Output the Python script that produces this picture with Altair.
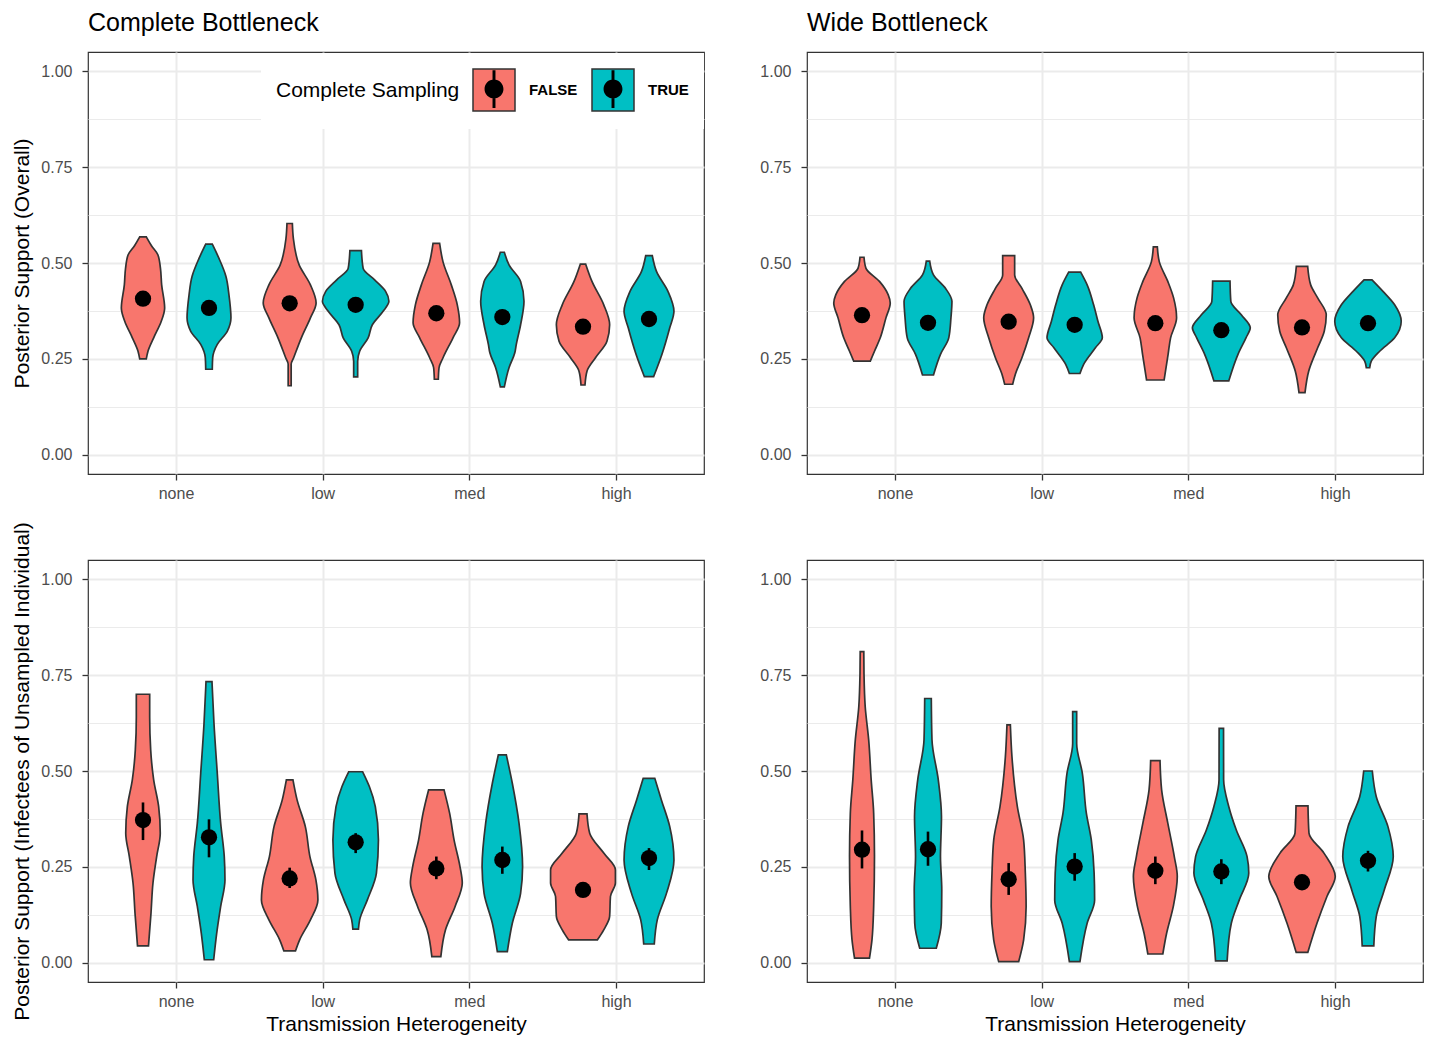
import altair as alt
import pandas as pd

FONT = "Liberation Sans"

categories = ["none", "low", "med", "high"]
sampling = ["FALSE", "TRUE"]
colors = ["#F8766D", "#00BFC4"]

# order of every list below: none-FALSE, none-TRUE, low-FALSE, low-TRUE, med-FALSE, med-TRUE, high-FALSE, high-TRUE
cb_overall_mean = [0.407, 0.383, 0.395, 0.391, 0.369, 0.359, 0.334, 0.354]
cb_overall_lo = [0.397, 0.373, 0.385, 0.381, 0.359, 0.349, 0.324, 0.344]
cb_overall_hi = [0.417, 0.393, 0.405, 0.401, 0.379, 0.369, 0.344, 0.364]

wb_overall_mean = [0.364, 0.344, 0.347, 0.339, 0.343, 0.325, 0.332, 0.343]
wb_overall_lo = [0.354, 0.334, 0.337, 0.329, 0.333, 0.315, 0.322, 0.333]
wb_overall_hi = [0.374, 0.354, 0.357, 0.349, 0.353, 0.335, 0.342, 0.353]

cb_unsamp_mean = [0.372, 0.327, 0.220, 0.314, 0.246, 0.268, 0.190, 0.273]
cb_unsamp_lo = [0.320, 0.275, 0.195, 0.286, 0.218, 0.232, 0.180, 0.242]
cb_unsamp_hi = [0.418, 0.374, 0.248, 0.338, 0.277, 0.303, 0.200, 0.299]

wb_unsamp_mean = [0.295, 0.296, 0.218, 0.251, 0.240, 0.238, 0.210, 0.266]
wb_unsamp_lo = [0.246, 0.253, 0.177, 0.214, 0.205, 0.205, 0.200, 0.238]
wb_unsamp_hi = [0.345, 0.342, 0.260, 0.286, 0.277, 0.270, 0.220, 0.292]

# violin profiles: (posterior support, density half-width)
cb_overall_violins = [
    [(0.250, 3.3), (0.270, 5), (0.305, 10.7), (0.348, 18.3), (0.383, 21.7), (0.443, 18.7), (0.486, 17.5), (0.521, 15), (0.545, 8.5), (0.568, 3.3)],
    [(0.223, 3.3), (0.253, 3.7), (0.288, 8.3), (0.322, 18.3), (0.357, 22), (0.417, 20), (0.465, 17), (0.512, 10), (0.549, 3.3)],
    [(0.180, 1.5), (0.236, 1.5), (0.253, 4), (0.305, 11.7), (0.357, 20.8), (0.396, 26.5), (0.443, 20.8), (0.495, 9.5), (0.564, 3.7), (0.603, 2.7)],
    [(0.203, 2), (0.244, 2), (0.270, 4), (0.305, 12.5), (0.339, 16.7), (0.374, 27.5), (0.400, 33.3), (0.426, 30), (0.456, 19), (0.486, 7.5), (0.532, 5.8)],
    [(0.197, 2), (0.227, 2.7), (0.253, 6.7), (0.305, 16.7), (0.344, 23.3), (0.391, 21), (0.443, 15), (0.503, 6.7), (0.551, 3.3)],
    [(0.177, 2), (0.227, 6.7), (0.266, 12.5), (0.288, 14), (0.339, 18.3), (0.400, 21.7), (0.452, 18.3), (0.495, 6.7), (0.528, 2)],
    [(0.182, 2), (0.218, 4), (0.253, 12.5), (0.296, 24), (0.339, 26.7), (0.391, 20.8), (0.452, 9), (0.497, 2.7)],
    [(0.204, 4.7), (0.262, 13), (0.331, 20.8), (0.374, 25), (0.426, 19), (0.478, 7.5), (0.519, 3.3)],
]

wb_overall_violins = [
    [(0.244, 8.3), (0.270, 12.5), (0.305, 18.3), (0.357, 24), (0.396, 28.3), (0.417, 26.3), (0.452, 17.5), (0.486, 4), (0.515, 2)],
    [(0.208, 5.5), (0.262, 12.5), (0.305, 20.8), (0.357, 23), (0.400, 24), (0.434, 17.5), (0.469, 5.5), (0.505, 1.7)],
    [(0.184, 4), (0.210, 6.7), (0.253, 13.3), (0.305, 20), (0.357, 25), (0.391, 21.7), (0.434, 13.3), (0.469, 6), (0.519, 6)],
    [(0.212, 5.3), (0.236, 9), (0.279, 20.8), (0.305, 27.7), (0.348, 23.3), (0.391, 19), (0.443, 12.5), (0.476, 6)],
    [(0.195, 8.8), (0.262, 12.8), (0.305, 15.3), (0.357, 21.3), (0.409, 18.3), (0.452, 12.5), (0.503, 4), (0.542, 2)],
    [(0.193, 7.5), (0.262, 16.7), (0.305, 24.7), (0.331, 29), (0.365, 20), (0.400, 9.5), (0.453, 8.7)],
    [(0.162, 3), (0.218, 6.7), (0.279, 15.7), (0.322, 22.3), (0.365, 24.3), (0.409, 15.7), (0.443, 8.7), (0.491, 5.7)],
    [(0.227, 1.7), (0.244, 3.3), (0.270, 11.7), (0.305, 26.7), (0.348, 33.3), (0.391, 26.7), (0.426, 15), (0.456, 4)],
]

cb_unsamp_violins = [
    [(0.044, 5.5), (0.129, 8), (0.208, 10), (0.277, 13.7), (0.338, 17.3), (0.407, 15.7), (0.477, 10.7), (0.555, 7.7), (0.641, 6.7), (0.700, 6.7)],
    [(0.008, 4.7), (0.077, 7.7), (0.147, 11.7), (0.216, 16), (0.277, 15.3), (0.364, 11.7), (0.494, 8.3), (0.624, 5), (0.733, 3)],
    [(0.031, 5.8), (0.060, 10), (0.112, 20.8), (0.164, 28.3), (0.216, 26.3), (0.277, 20.3), (0.355, 15.7), (0.424, 7.5), (0.477, 3.3)],
    [(0.088, 2.8), (0.112, 4), (0.164, 11.7), (0.234, 20.8), (0.320, 22.8), (0.407, 19.7), (0.459, 13.8), (0.498, 7)],
    [(0.016, 4.5), (0.086, 9.2), (0.147, 18.8), (0.208, 26), (0.251, 23.7), (0.320, 17.8), (0.390, 13.3), (0.451, 7.7)],
    [(0.029, 5), (0.103, 10), (0.181, 18.3), (0.251, 20.3), (0.364, 16.7), (0.468, 10), (0.542, 4)],
    [(0.060, 14.5), (0.086, 20.8), (0.121, 26.7), (0.173, 27.5), (0.208, 32.5), (0.242, 32.5), (0.286, 20.8), (0.338, 6.7), (0.388, 4)],
    [(0.049, 5.3), (0.112, 8.3), (0.181, 17.5), (0.268, 25), (0.355, 20.8), (0.424, 12.5), (0.481, 5.8)],
]

wb_unsamp_violins = [
    [(0.012, 7.5), (0.060, 10), (0.147, 11.7), (0.277, 12.5), (0.390, 11.7), (0.477, 9.2), (0.581, 6.7), (0.668, 3.2), (0.754, 2), (0.811, 1.8)],
    [(0.038, 8.3), (0.103, 13.3), (0.190, 13.8), (0.277, 12.5), (0.381, 13.5), (0.477, 10.3), (0.581, 4), (0.689, 3.3)],
    [(0.003, 10), (0.060, 15), (0.147, 17.5), (0.234, 16.7), (0.320, 15), (0.407, 8.7), (0.537, 3.3), (0.620, 1.7)],
    [(0.003, 5.3), (0.103, 12.5), (0.164, 20), (0.234, 19.5), (0.320, 16.7), (0.390, 11.7), (0.494, 7.7), (0.572, 2), (0.655, 2)],
    [(0.023, 7.5), (0.077, 11.3), (0.147, 18), (0.225, 22), (0.277, 19), (0.364, 12.5), (0.451, 6.3), (0.527, 4.7)],
    [(0.005, 5.8), (0.103, 10), (0.164, 18), (0.234, 27.5), (0.277, 25.8), (0.346, 15), (0.407, 7.5), (0.477, 2.3), (0.611, 2.2)],
    [(0.027, 5.8), (0.103, 15), (0.173, 25), (0.225, 33.3), (0.286, 22), (0.338, 7), (0.409, 6)],
    [(0.044, 5.8), (0.121, 8.3), (0.190, 16.3), (0.277, 25.3), (0.355, 20), (0.433, 8.3), (0.500, 4.3)],
]

DODGE = 0.225
DENSITY_TO_UNITS = 1.0 / 147.0
DOT_KEYS = ["F", "T"]


def centre(k):
    return k // 2 + 1 + (-DODGE if k % 2 == 0 else DODGE)


def violin_df(profiles):
    rows = []
    for k, prof in enumerate(profiles):
        c = centre(k)
        for v, d in prof:
            w = d * DENSITY_TO_UNITS
            rows.append(dict(vid=k, Sampling=sampling[k % 2], v=v, xl=c - w, xr=c + w))
    return pd.DataFrame(rows)


def point_df(means, los, his):
    rows = []
    for k in range(len(means)):
        rows.append(dict(xc=centre(k), mean=means[k], lo=los[k], hi=his[k],
                         Sampling=sampling[k % 2], Dot=DOT_KEYS[k % 2]))
    return pd.DataFrame(rows)


label_expr = "[" + ",".join("'%s'" % c for c in categories) + "][datum.value - 1]"
major = "datum.value * 8 % 2 == 0"

DOT_PATH = ("M -0.45 0 A 0.45 0.45 0 1 1 0.45 0 A 0.45 0.45 0 1 1 -0.45 0 Z "
            "M -0.07 -0.9 L 0.07 -0.9 L 0.07 -0.44 L -0.07 -0.44 Z "
            "M -0.07 0.44 L 0.07 0.44 L 0.07 0.9 L -0.07 0.9 Z")


def panel(profiles, means, los, his, title=None, ytitle=None, xtitle=None, with_legend=False):
    xs = alt.Scale(domain=[0.4, 4.6], nice=False, zero=False)
    ys = alt.Scale(domain=[-0.05, 1.05], nice=False, zero=False)
    xaxis = alt.Axis(values=[1, 2, 3, 4], labelExpr=label_expr, grid=True, gridWidth=2,
                     labelPadding=5, titlePadding=4, title=xtitle)
    yaxis = alt.Axis(values=[i / 8 for i in range(9)],
                     labelExpr="%s ? format(datum.value, '.2f') : ''" % major,
                     gridWidth=alt.condition(major, alt.value(2), alt.value(1)),
                     tickOpacity=alt.condition(major, alt.value(1), alt.value(0)),
                     labelPadding=10, titlePadding=8, title=ytitle)
    cscale = alt.Scale(domain=sampling, range=colors)
    if with_legend:
        leg = alt.Legend(
            title="Complete Sampling", orient="none", legendX=173, legendY=1,
            direction="horizontal", titleOrient="left", titleAnchor="middle", titleBaseline="middle",
            titleFontSize=21, titleFont=FONT, titleFontWeight="normal", titleLimit=400, titlePadding=12,
            labelFontSize=15, labelFont=FONT, labelFontWeight="bold", labelOffset=13, columnPadding=11,
            symbolSize=1764, padding=15,
            symbolType="square", symbolStrokeColor="#333333", symbolStrokeWidth=1.5,
            labelColor="black", titleColor="black", fillColor="white", zindex=1)
    else:
        leg = None
    vio = alt.Chart(violin_df(profiles)).mark_area(
        orient="horizontal", interpolate="monotone", stroke="#333333", strokeWidth=1.7, opacity=1
    ).encode(
        y=alt.Y("v:Q", scale=ys, axis=yaxis),
        x=alt.X("xl:Q", scale=xs, axis=xaxis),
        x2="xr:Q",
        color=alt.Color("Sampling:N", scale=cscale, legend=leg),
        detail="vid:N",
    )
    pdf = point_df(means, los, his)
    rules = alt.Chart(pdf).mark_rule(color="black", strokeWidth=2.6).encode(
        x="xc:Q", y="lo:Q", y2="hi:Q"
    )
    enc = dict(x="xc:Q", y="mean:Q")
    if with_legend:
        # second, text-free legend that draws the point-range glyph over the colour keys
        leg2 = alt.Legend(
            title=None, orient="none", legendX=385, legendY=16, direction="horizontal",
            symbolType=DOT_PATH, symbolSize=1764, symbolFillColor="black", symbolStrokeWidth=0,
            labelExpr="''", labelOffset=0, columnPadding=77, padding=0, zindex=2)
        enc["opacity"] = alt.Opacity("Dot:N", scale=alt.Scale(domain=DOT_KEYS, range=[1, 1]),
                                     legend=leg2)
    dots = alt.Chart(pdf).mark_point(filled=True, color="black", size=265, opacity=1).encode(**enc)
    ch = alt.layer(vio, rules, dots).properties(width=616, height=422)
    if title:
        ch = ch.properties(title=alt.TitleParams(
            text=title, anchor="start", frame="group", fontSize=25, font=FONT,
            fontWeight="normal", color="black", baseline="alphabetic", offset=-4))
    return ch


tl = panel(cb_overall_violins, cb_overall_mean, cb_overall_lo, cb_overall_hi,
           title="Complete Bottleneck", ytitle="Posterior Support (Overall)", with_legend=True)
tr = panel(wb_overall_violins, wb_overall_mean, wb_overall_lo, wb_overall_hi,
           title="Wide Bottleneck")
bl = panel(cb_unsamp_violins, cb_unsamp_mean, cb_unsamp_lo, cb_unsamp_hi,
           ytitle="Posterior Support (Infectees of Unsampled Individual)",
           xtitle="Transmission Heterogeneity")
br = panel(wb_unsamp_violins, wb_unsamp_mean, wb_unsamp_lo, wb_unsamp_hi,
           xtitle="Transmission Heterogeneity")

chart = alt.concat(
    tl, tr, bl, br, columns=2, spacing={"row": 86, "column": 103}, bounds="flush"
).resolve_legend(
    color="independent", opacity="independent"
).properties(
    padding={"left": 11, "top": 10, "right": 5, "bottom": 5}, background="white"
).configure(
    font=FONT
).configure_view(
    stroke="#333333", strokeWidth=1.2
).configure_axis(
    gridColor="#EBEBEB", domain=False, tickColor="#333333", tickSize=6, tickWidth=1.3,
    labelColor="#4D4D4D", labelFontSize=16, labelFont=FONT,
    titleFontSize=21, titleFont=FONT, titleFontWeight="normal", titleColor="black"
)

chart.save("out.html", embed_options={"renderer": "svg", "actions": False})
